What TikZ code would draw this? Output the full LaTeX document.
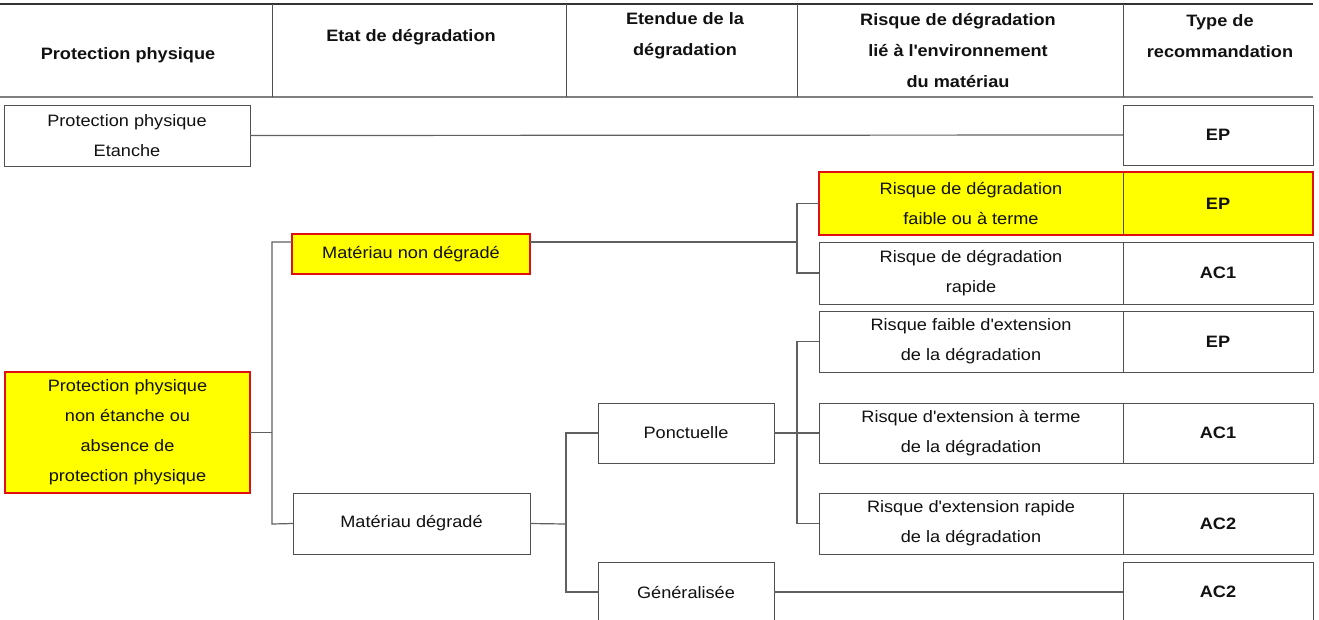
\documentclass[tikz,border=0pt]{standalone}
\usepackage{fontspec}
\setmainfont{Liberation Sans}[FakeStretch=1.1]
\usetikzlibrary{fit}
\definecolor{bordergray}{HTML}{505050}
\definecolor{linegray}{HTML}{606060}
\definecolor{hlred}{HTML}{E01010}
\definecolor{hlyellow}{HTML}{FFFF00}
\definecolor{txt}{HTML}{111111}
\newcommand{\apos}{\textquotesingle}
\begin{document}
\begin{tikzpicture}[x=1pt,y=-1pt,
  every node/.style={font=\fontsize{16.5}{30}\selectfont, text=txt},
  box/.style={draw=bordergray, line width=1pt, fill=white, inner sep=0pt, outer sep=0pt, align=center},
  hl/.style={box, fill=hlyellow, draw=hlred, line width=2.5pt},
  rec/.style={box, font=\fontsize{16.5}{30}\selectfont\bfseries},
  conn/.style={draw=linegray, line width=1.2pt},
  rule/.style={draw=bordergray, line width=1pt},
  head/.style={font=\fontsize{16.5}{31}\selectfont\bfseries, align=center, inner sep=0pt}]

\useasboundingbox (0,0) rectangle (1319,619);
\clip (0,0) rectangle (1319,619);

% header table rules
\draw[rule, line width=1.8pt, draw=black!80] (0,4) -- (1313,4);
\draw[rule, line width=2pt, draw=linegray!80] (0,97) -- (1313,97);
\foreach \cx in {272,566,797,1123} \draw[rule] (\cx,4) -- (\cx,97);

% header labels
\node[head] (h1) at (128,55) {Protection physique};
\node[head] (h2) at (411,37) {Etat de dégradation};
\node[head] (h3) at (685,36) {Etendue de la\\dégradation};
\node[head] (h4) at (958,51) {Risque de dégradation\\lié à l\apos environnement\\du matériau};
\node[head] (h5) at (1220,36) {Type de\\recommandation};

% first row
\node[box, minimum width=246, minimum height=61] (etanche) at (127,135.5) {Protection physique\\Etanche};
\node[rec, minimum width=190, minimum height=60] (t0) at (1218,135) {EP};

% left column
\node[hl, minimum width=245, minimum height=121] (pnonet) at (127.5,432.5) {Protection physique\\non étanche ou\\absence de\\protection physique};

% second column
\node[hl, minimum width=238, minimum height=40] (mnd) at (411,254) {Matériau non dégradé};
\node[box, minimum width=237, minimum height=61] (md) at (411.5,523.5) {Matériau dégradé};

% third column
\node[box, minimum width=176, minimum height=60] (pon) at (686,433) {Ponctuelle};
\node[box, minimum width=176, minimum height=60] (gen) at (686,592) {Généralisée};

% risk column and recommendations
\node[box, fill=hlyellow, minimum width=304, minimum height=63] (r1) at (971,203.5) {Risque de dégradation\\faible ou à terme};
\node[rec, fill=hlyellow, minimum width=190, minimum height=63] (t1) at (1218,203.5) {EP};
\node[draw=hlred, line width=2.5pt, inner sep=0pt, fit=(r1)(t1)] (f1) {};

\node[box, minimum width=304, minimum height=62] (r2) at (971,273) {Risque de dégradation\\rapide};
\node[rec, minimum width=190, minimum height=62] (t2) at (1218,273) {AC1};

\node[box, minimum width=304, minimum height=61] (r3) at (971,341.5) {Risque faible d\apos extension\\de la dégradation};
\node[rec, minimum width=190, minimum height=61] (t3) at (1218,341.5) {EP};

\node[box, minimum width=304, minimum height=60] (r4) at (971,433) {Risque d\apos extension à terme\\de la dégradation};
\node[rec, minimum width=190, minimum height=60] (t4) at (1218,433) {AC1};

\node[box, minimum width=304, minimum height=61] (r5) at (971,523.5) {Risque d\apos extension rapide\\de la dégradation};
\node[rec, minimum width=190, minimum height=61] (t5) at (1218,523.5) {AC2};

\node[rec, minimum width=190, minimum height=60] (t6) at (1218,592) {AC2};

% junction coordinates
\coordinate (ja) at (272,242);
\coordinate (jb) at (272,524);
\coordinate (jc) at (797,242);
\coordinate (jd) at (566,524);

% connectors
\draw[conn] (etanche.east) -- (t0.west);
\draw[conn] (pnonet.east) -- (pnonet.east -| ja);
\draw[conn] (mnd.west |- ja) -- (ja) -- (jb) -- (md.west);
\draw[conn] (mnd.east |- ja) -- (jc);
\draw[conn] (r1.west) -- (r1.west -| jc) -- (r2.west -| jc) -- (r2.west);
\draw[conn] (md.east) -- (jd);
\draw[conn] (pon.west) -- (pon.west -| jd) -- (gen.west -| jd) -- (gen.west);
\draw[conn] (pon.east) -- (r4.west);
\draw[conn] (r3.west) -- (r3.west -| jc) -- (r5.west -| jc) -- (r5.west);
\draw[conn] (gen.east) -- (t6.west);
\end{tikzpicture}
\end{document}
